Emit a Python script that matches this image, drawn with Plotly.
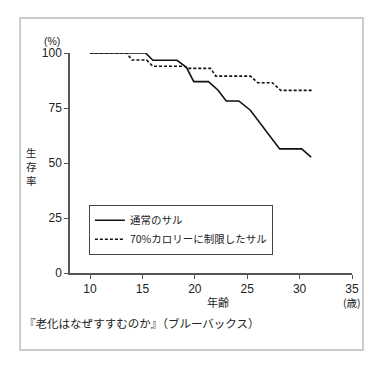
import plotly.graph_objects as go

# Data
normal_age = [10, 15.3, 16.0, 18.3, 19.2, 19.9, 21.3, 22.2, 23.0, 24.2, 25.3, 28.1, 30.2, 31.1]
normal_surv = [100, 100, 96.7, 96.7, 93.5, 87, 87, 83.2, 78.2, 78.2, 74, 56.4, 56.4, 52.7]

restricted_age = [10, 13.5, 14.0, 15.4, 16.0, 19.0, 19.3, 21.5, 22.0, 25.3, 26.0, 27.4, 28.2, 31.2]
restricted_surv = [100, 100, 96.8, 96.8, 94, 94, 93, 93, 89.5, 89.5, 86.5, 86.5, 83, 83]

x_ticks = [10, 15, 20, 25, 30, 35]
y_ticks = [0, 25, 50, 75, 100]

series_names = ["通常のサル", "70%カロリーに制限したサル"]
y_title_chars = ["生", "存", "率"]

JP = "Noto Sans CJK JP, Noto Sans, sans-serif"
NUM = "Liberation Sans, Arial, sans-serif"
TXT = "#222222"

fig = go.Figure()
fig.add_trace(go.Scatter(x=normal_age, y=normal_surv, mode="lines",
                         name=series_names[0],
                         line=dict(color="#111111", width=1.6)))
fig.add_trace(go.Scatter(x=restricted_age, y=restricted_surv, mode="lines",
                         name=series_names[1],
                         line=dict(color="#111111", width=1.6, dash="3px,2px")))

fig.update_layout(
    width=388, height=378, autosize=False,
    margin=dict(l=70, r=36, t=53, b=105),
    paper_bgcolor="white", plot_bgcolor="white",
    showlegend=True,
    legend=dict(x=0.067, y=0.31, xanchor="left", yanchor="top",
                bordercolor="#444444", borderwidth=1, bgcolor="white",
                font=dict(family=JP, size=10.5, color=TXT),
                tracegroupgap=0, itemwidth=30),
    xaxis=dict(range=[8.09, 35], tickvals=x_ticks, ticks="outside", ticklen=4,
               tickcolor="#555555", showline=True, linecolor="#555555", linewidth=1.5,
               showgrid=False, zeroline=False,
               tickfont=dict(family=NUM, size=12, color=TXT)),
    yaxis=dict(range=[0, 100], tickvals=y_ticks, ticks="outside", ticklen=4,
               tickcolor="#555555", showline=True, linecolor="#555555", linewidth=1.5,
               showgrid=False, zeroline=False,
               tickfont=dict(family=NUM, size=12, color=TXT)),
)

# outer frame
fig.add_shape(type="rect", xref="paper", yref="paper",
              x0=-0.177, x1=1.039, y0=-0.35, y1=1.159,
              line=dict(color="#bbbbbb", width=1.5), layer="below")

ann = [
    dict(text="(%)", x=-0.064, y=1.055, font=dict(family=NUM, size=10.5, color=TXT)),
    dict(text="年齢", x=0.525, y=-0.132, font=dict(family=JP, size=11, color=TXT)),
    dict(text="(歳)", x=1.0, y=-0.132, font=dict(family=JP, size=10.5, color=TXT)),
]
for i, ch in enumerate(y_title_chars):
    ann.append(dict(text=ch, x=-0.135, y=0.55 - i * 0.064,
                    font=dict(family=JP, size=10.5, color=TXT)))
for a in ann:
    fig.add_annotation(xref="paper", yref="paper", showarrow=False,
                       xanchor="center", yanchor="middle", borderpad=0, **a)
fig.add_annotation(xref="paper", yref="paper", showarrow=False,
                   text="『老化はなぜすすむのか』（ブルーバックス）",
                   x=-0.17, y=-0.227, xanchor="left", yanchor="middle",
                   font=dict(family=JP, size=11.5, color=TXT))

fig.write_html("out.html", config={"displayModeBar": False},
               post_script="document.body.style.margin='0';")
